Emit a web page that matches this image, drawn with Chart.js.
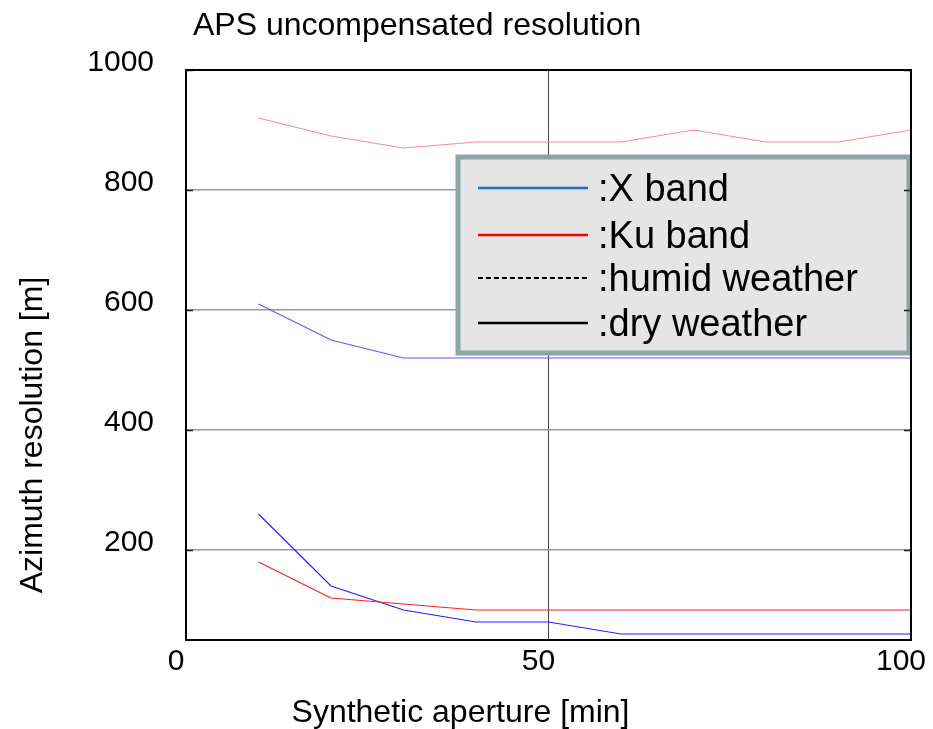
<!DOCTYPE html>
<html>
<head>
<meta charset="utf-8">
<title>APS uncompensated resolution</title>
<script src="https://cdn.jsdelivr.net/npm/chart.js@4.4.1/dist/chart.umd.min.js"></script>
<style>
  html, body { margin: 0; padding: 0; background: #ffffff; }
  #wrap { width: 933px; height: 729px; }
</style>
</head>
<body>
<div id="wrap"><canvas id="chart" width="933" height="729"></canvas></div>
<script>
// Synthetic aperture length in minutes (x positions of every sample)
const apertureMin = [10, 20, 30, 40, 50, 60, 70, 80, 90, 100];

// Azimuth resolution [m] per band and weather condition
const xBandHumid  = [610, 550, 520, 520, 520, 520, 520, 520, 520, 520];
const xBandDry    = [260, 140, 100, 80, 80, 60, 60, 60, 60, 60];
const kuBandHumid = [920, 890, 870, 880, 880, 880, 900, 880, 880, 900];
const kuBandDry   = [180, 120, 110, 100, 100, 100, 100, 100, 100, 100];

// Axis ticks and texts
const xTickValues = [0, 50, 100];
const yTickValues = [200, 400, 600, 800, 1000];
const chartTitle = 'APS uncompensated resolution';
const xAxisTitle = 'Synthetic aperture [min]';
const yAxisTitle = 'Azimuth resolution [m]';

// Legend entries: band colours and weather line styles
const legendLabels = [':X band', ':Ku band', ':humid weather', ':dry weather'];

const FONT = '"Liberation Sans", Arial, sans-serif';

function toPoints(ys) {
  return apertureMin.map((x, i) => ({ x: x, y: ys[i] }));
}

// Title, axis titles, inner tick marks, frame
const decorations = {
  id: 'decorations',
  afterDraw(chart) {
    const { ctx, chartArea: a, scales } = chart;
    ctx.save();

    // inward tick marks on both vertical edges
    ctx.strokeStyle = '#222';
    ctx.lineWidth = 1.5;
    scales.y.ticks.forEach(t => {
      const y = Math.round(scales.y.getPixelForValue(t.value)) + 0.5;
      ctx.beginPath();
      ctx.moveTo(a.left, y); ctx.lineTo(a.left + 7, y);
      ctx.moveTo(a.right, y); ctx.lineTo(a.right - 7, y);
      ctx.stroke();
    });

    // plot frame
    ctx.strokeStyle = '#000';
    ctx.lineWidth = 2;
    ctx.strokeRect(a.left, a.top, a.right - a.left, a.bottom - a.top);

    ctx.fillStyle = '#000';
    // chart title
    ctx.font = '32px ' + FONT;
    ctx.textAlign = 'left';
    ctx.textBaseline = 'alphabetic';
    ctx.fillText(chartTitle, a.left + 7, 35);

    // x axis title
    ctx.font = '32px ' + FONT;
    ctx.textAlign = 'center';
    ctx.fillText(xAxisTitle, chart.width / 2 - 6, 722);

    // y axis title
    ctx.save();
    ctx.translate(42, 435);
    ctx.rotate(-Math.PI / 2);
    ctx.fillText(yAxisTitle, 0, 0);
    ctx.restore();

    ctx.restore();
  }
};

// Legend box drawn over the plotted lines
const legendBox = {
  id: 'legendBox',
  afterDatasetsDraw(chart) {
    const { ctx, chartArea: a } = chart;
    const left = a.right - 453, top = a.top + 87, w = 451, h = 196;
    ctx.save();
    ctx.fillStyle = '#e5e5e5';
    ctx.fillRect(left, top, w, h);
    ctx.strokeStyle = '#8da5a5';
    ctx.lineWidth = 5;
    ctx.strokeRect(left, top, w, h);

    const styles = [
      { color: '#1a6fcc', dash: [], width: 2.5 },
      { color: '#ff0000', dash: [], width: 2.5 },
      { color: '#000000', dash: [5, 3], width: 2 },
      { color: '#000000', dash: [], width: 2.5 }
    ];
    const rowY = [31, 78, 121, 166];
    ctx.font = '38px ' + FONT;
    ctx.textAlign = 'left';
    ctx.textBaseline = 'alphabetic';
    legendLabels.forEach((label, i) => {
      const y = top + rowY[i];
      const s = styles[i];
      ctx.strokeStyle = s.color;
      ctx.lineWidth = s.width;
      ctx.setLineDash(s.dash);
      ctx.beginPath();
      ctx.moveTo(left + 20, y);
      ctx.lineTo(left + 130, y);
      ctx.stroke();
      ctx.setLineDash([]);
      ctx.fillStyle = '#000';
      ctx.fillText(label, left + 140, y + 13);
    });
    ctx.restore();
  }
};

const lineStyle = (color) => ({
  borderColor: color,
  backgroundColor: color,
  borderWidth: 1.2,
  pointRadius: 0,
  fill: false,
  tension: 0
});

new Chart(document.getElementById('chart'), {
  type: 'line',
  data: {
    datasets: [
      Object.assign({ label: 'Ku band, humid', data: toPoints(kuBandHumid) }, lineStyle('#ff8a8a')),
      Object.assign({ label: 'X band, humid', data: toPoints(xBandHumid) }, lineStyle('#5a5aff')),
      Object.assign({ label: 'Ku band, dry', data: toPoints(kuBandDry) }, lineStyle('#ff2020')),
      Object.assign({ label: 'X band, dry', data: toPoints(xBandDry) }, lineStyle('#2222ff'))
    ]
  },
  options: {
    responsive: false,
    animation: false,
    layout: { padding: { top: 70, right: 22, left: 0, bottom: 0 } },
    plugins: {
      legend: { display: false },
      title: { display: false },
      tooltip: { enabled: false }
    },
    scales: {
      x: {
        type: 'linear',
        min: 0,
        max: 100,
        afterBuildTicks: (scale) => { scale.ticks = xTickValues.map(v => ({ value: v })); },
        afterFit: (scale) => {
          scale.height = 89;
          scale.paddingLeft = 0;
          scale.paddingRight = 0;
        },
        grid: { color: '#444', lineWidth: 1, drawTicks: false },
        border: { display: false },
        ticks: {
          color: '#000',
          font: { family: FONT, size: 30 },
          padding: 4,
          labelOffset: -10,
          maxRotation: 0,
          callback: (v) => String(v)
        }
      },
      y: {
        type: 'linear',
        min: 50,
        max: 1000,
        afterBuildTicks: (scale) => { scale.ticks = yTickValues.map(v => ({ value: v })); },
        afterFit: (scale) => {
          scale.width = 186;
          scale.paddingTop = 0;
          scale.paddingBottom = 0;
        },
        grid: { color: '#999', lineWidth: 1.5, drawTicks: false },
        border: { display: false },
        ticks: {
          color: '#000',
          font: { family: FONT, size: 30 },
          padding: 32,
          labelOffset: -7,
          callback: (v) => String(v)
        }
      }
    }
  },
  plugins: [legendBox, decorations]
});
</script>
</body>
</html>
